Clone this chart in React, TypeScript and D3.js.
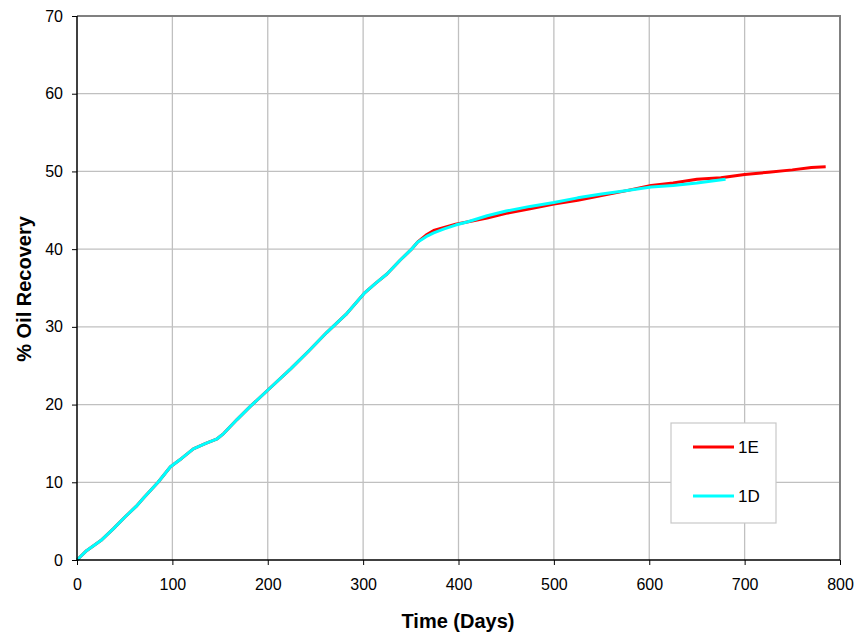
import { useEffect, useRef } from "react";
import * as d3 from "d3";

// run 1E (red)
const time1E = [0, 10, 25, 38, 50, 62, 70, 85, 98, 110, 122, 135, 147, 154, 168, 182, 203, 224, 243, 262, 282, 301, 313, 325, 339, 350, 357, 366, 374, 385, 397, 409, 430, 450, 475, 500, 525, 550, 575, 602, 625, 650, 675, 700, 725, 750, 770, 785];
const rec1E = [0, 1.2, 2.5, 4.0, 5.5, 6.9, 8.0, 10.0, 12.0, 13.1, 14.3, 15.0, 15.6, 16.3, 18.1, 19.8, 22.2, 24.6, 26.9, 29.3, 31.6, 34.3, 35.6, 36.8, 38.6, 39.9, 40.9, 41.8, 42.4, 42.8, 43.2, 43.5, 44.0, 44.6, 45.2, 45.8, 46.3, 46.9, 47.5, 48.2, 48.5, 49.0, 49.2, 49.6, 49.9, 50.2, 50.5, 50.6];

// run 1D (cyan)
const time1D = [0, 10, 25, 38, 50, 62, 70, 85, 98, 110, 122, 135, 147, 154, 168, 182, 203, 224, 243, 262, 282, 301, 313, 325, 339, 350, 357, 366, 374, 385, 397, 409, 430, 450, 475, 500, 525, 550, 575, 602, 625, 650, 680];
const rec1D = [0, 1.2, 2.5, 4.0, 5.5, 6.9, 8.0, 10.0, 12.0, 13.1, 14.3, 15.0, 15.6, 16.3, 18.1, 19.8, 22.2, 24.6, 26.9, 29.3, 31.6, 34.3, 35.6, 36.8, 38.6, 39.9, 40.9, 41.6, 42.1, 42.6, 43.1, 43.5, 44.3, 44.9, 45.5, 46.0, 46.6, 47.1, 47.5, 48.0, 48.2, 48.5, 49.0];

const xTicks = [0, 100, 200, 300, 400, 500, 600, 700, 800];
const yTicks = [0, 10, 20, 30, 40, 50, 60, 70];

const seriesNames = ["1E", "1D"];
const seriesColors = ["#ff0000", "#00ffff"];

const W = 856;
const H = 635;
const m = { left: 77, right: 16, top: 16, bottom: 75 };

export default function App() {
  const ref = useRef<SVGSVGElement>(null);

  useEffect(() => {
    const svg = d3.select(ref.current);
    svg.selectAll("*").remove();

    const x = d3.scaleLinear().domain([0, 800]).range([m.left, W - m.right]);
    const y = d3.scaleLinear().domain([0, 70]).range([H - m.bottom, m.top]);
    const font = "'Liberation Sans', Arial, sans-serif";

    // grid
    const grid = svg.append("g").attr("stroke", "#c0c0c0").attr("stroke-width", 1.3);
    grid.selectAll("line.v").data(xTicks.slice(1, -1)).join("line")
      .attr("x1", (d) => x(d)).attr("x2", (d) => x(d))
      .attr("y1", y(0)).attr("y2", y(70));
    grid.selectAll("line.h").data(yTicks.slice(1, -1)).join("line")
      .attr("x1", x(0)).attr("x2", x(800))
      .attr("y1", (d) => y(d)).attr("y2", (d) => y(d));

    // top / right frame
    svg.append("path")
      .attr("d", `M${x(0)},${y(70)}H${x(800)}V${y(0)}`)
      .attr("fill", "none").attr("stroke", "#808080").attr("stroke-width", 2);

    // lines
    const line = d3.line<[number, number]>().x((d) => x(d[0])).y((d) => y(d[1]));
    const data: [number, number][][] = [
      time1E.map((t, i) => [t, rec1E[i]]),
      time1D.map((t, i) => [t, rec1D[i]]),
    ];
    data.forEach((pts, i) => {
      svg.append("path").datum(pts).attr("d", line)
        .attr("fill", "none").attr("stroke", seriesColors[i])
        .attr("stroke-width", 3).attr("stroke-linejoin", "round");
    });

    // axes
    const xAxis = svg.append("g").attr("transform", `translate(0,${y(0)})`)
      .call(d3.axisBottom(x).tickValues(xTicks).tickSize(5).tickPadding(14));
    const yAxis = svg.append("g").attr("transform", `translate(${x(0)},0)`)
      .call(d3.axisLeft(y).tickValues(yTicks).tickSize(5).tickPadding(9));
    [xAxis, yAxis].forEach((a) => {
      a.select(".domain").attr("stroke", "#000").attr("stroke-width", 1.5);
      a.selectAll(".tick line").attr("stroke", "#000");
      a.selectAll(".tick text").attr("font-family", font).attr("font-size", 16).attr("fill", "#000");
    });
    xAxis.select(".domain").attr("d", `M${x(0)},0H${x(800)}`);
    yAxis.select(".domain").attr("d", `M0,${y(0)}V${y(70)}`);

    // axis titles
    svg.append("text").attr("x", 458).attr("y", 628)
      .attr("text-anchor", "middle").attr("font-family", font)
      .attr("font-size", 20).attr("font-weight", "bold").text("Time (Days)");
    svg.append("text").attr("transform", "translate(31,289) rotate(-90)")
      .attr("text-anchor", "middle").attr("font-family", font)
      .attr("font-size", 20).attr("font-weight", "bold").text("% Oil Recovery");

    // legend
    const lg = svg.append("g").attr("transform", "translate(671,423)");
    lg.append("rect").attr("width", 105).attr("height", 100)
      .attr("fill", "#fff").attr("stroke", "#c8c8c8").attr("stroke-width", 1.2);
    seriesNames.forEach((n, i) => {
      const yy = 24 + i * 49;
      lg.append("line").attr("x1", 22).attr("x2", 63).attr("y1", yy).attr("y2", yy)
        .attr("stroke", seriesColors[i]).attr("stroke-width", 3);
      lg.append("text").attr("x", 67).attr("y", yy + 6).attr("font-family", font)
        .attr("font-size", 17).text(n);
    });
  }, []);

  return (
    <svg ref={ref} width={W} height={H}
      style={{ position: "absolute", left: 0, top: 0, background: "#fff" }} />
  );
}
